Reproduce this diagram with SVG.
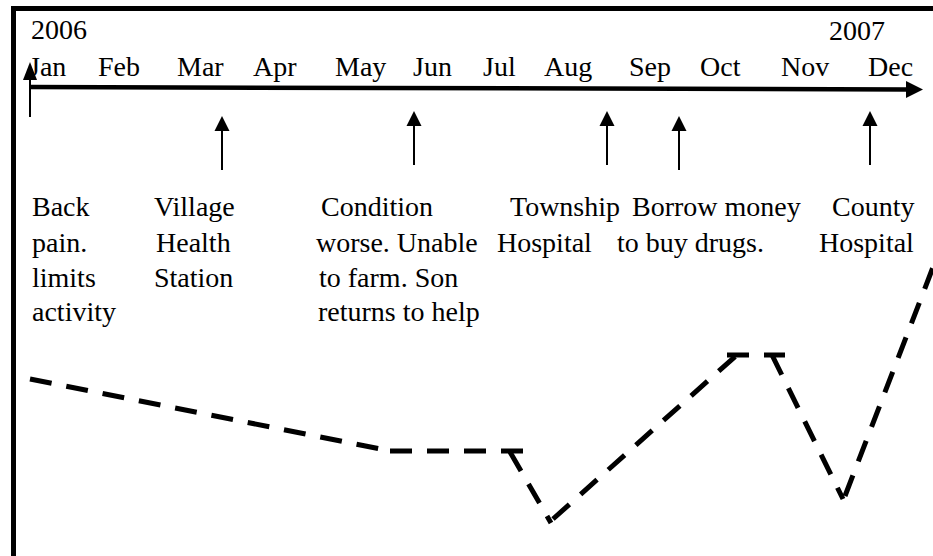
<svg xmlns="http://www.w3.org/2000/svg" width="933" height="556" viewBox="0 0 933 556">
<defs>
<style>
text{font-family:"Liberation Serif","Times New Roman",serif;font-size:28px;fill:#000}
.ptr{stroke:#000;stroke-width:2;fill:none}
.head{fill:#000}
.trend{stroke:#000;stroke-width:5;fill:none;stroke-dasharray:22 15}
</style>
</defs>
<rect width="933" height="556" fill="#fff"/>
<path d="M13.5,556 V8.5 H933" stroke="#000" stroke-width="5" fill="none"/>

<g id="years">
<text x="31" y="39">2006</text>
<text x="829" y="40">2007</text>
</g>

<g id="months">
<text x="29" y="76">Jan</text>
<text x="98" y="76">Feb</text>
<text x="177" y="76">Mar</text>
<text x="253" y="76">Apr</text>
<text x="335" y="76">May</text>
<text x="413" y="76">Jun</text>
<text x="483" y="76">Jul</text>
<text x="544" y="76">Aug</text>
<text x="629" y="76">Sep</text>
<text x="700" y="76">Oct</text>
<text x="781" y="76">Nov</text>
<text x="868" y="76">Dec</text>
</g>

<g id="axis">
<line x1="30" y1="87" x2="908" y2="89.5" stroke="#000" stroke-width="4.5"/>
<polygon class="head" points="906,81 923,89.5 906,98"/>
</g>

<g id="connectors">
<line class="ptr" x1="30" y1="117" x2="30" y2="76"/>
<polygon class="head" points="23,80 30,62 37,80"/>
<line class="ptr" x1="222" y1="170" x2="222" y2="128"/>
<polygon class="head" points="214.5,131 222,116 229.5,131"/>
<line class="ptr" x1="414" y1="165" x2="414" y2="123"/>
<polygon class="head" points="406.5,126 414,111 421.5,126"/>
<line class="ptr" x1="607" y1="165" x2="607" y2="123"/>
<polygon class="head" points="599.5,126 607,111 614.5,126"/>
<line class="ptr" x1="679" y1="170" x2="679" y2="128"/>
<polygon class="head" points="671.5,131 679,116 686.5,131"/>
<line class="ptr" x1="870" y1="165" x2="870" y2="123"/>
<polygon class="head" points="862.5,126 870,111 877.5,126"/>
</g>

<g id="event-back-pain">
<text x="32" y="216">Back</text>
<text x="32" y="252">pain.</text>
<text x="32" y="287">limits</text>
<text x="32" y="321">activity</text>
</g>
<g id="event-village">
<text x="154" y="216">Village</text>
<text x="156" y="252">Health</text>
<text x="154" y="287">Station</text>
</g>
<g id="event-condition">
<text x="321" y="216">Condition</text>
<text x="316" y="252">worse. Unable</text>
<text x="319" y="287">to farm. Son</text>
<text x="318" y="321">returns to help</text>
</g>
<g id="event-township">
<text x="510" y="216">Township</text>
<text x="497" y="252">Hospital</text>
</g>
<g id="event-borrow">
<text x="632" y="216">Borrow money</text>
<text x="617" y="252">to buy drugs.</text>
</g>
<g id="event-county">
<text x="832" y="216">County</text>
<text x="819" y="252">Hospital</text>
</g>

<g id="trend">
<line class="trend" x1="30" y1="379" x2="388" y2="450.5"/>
<line class="trend" x1="390" y1="451" x2="523" y2="451"/>
<line class="trend" x1="510" y1="452" x2="551" y2="523"/>
<line class="trend" x1="553" y1="519" x2="738" y2="354"/>
<line class="trend" x1="727" y1="355" x2="785" y2="355"/>
<line class="trend" x1="772" y1="355" x2="843" y2="499"/>
<line class="trend" x1="845" y1="496" x2="935" y2="262"/>
</g>
</svg>
